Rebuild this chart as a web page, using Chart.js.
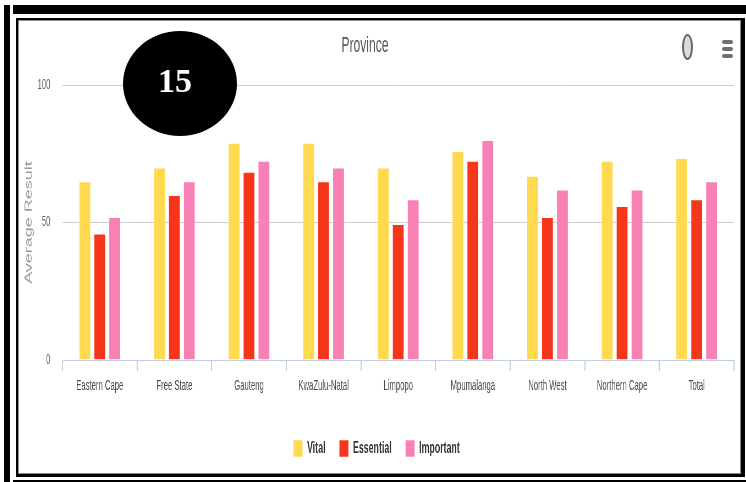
<!DOCTYPE html>
<html>
<head>
<meta charset="utf-8">
<script src="https://cdn.jsdelivr.net/npm/chart.js@4/dist/chart.umd.min.js"></script>
<style>
html, body { margin:0; padding:0; background:#fff; overflow:hidden; }
body { width:746px; height:482px; position:relative; }
.blk { position:absolute; background:#000; }
#frame { position:absolute; left:16px; top:18px; width:729px; height:459px; box-sizing:border-box;
  border-style:solid; border-color:#000; border-width:2px 4px 3px 2px; }
#inner { position:absolute; left:0; top:0; right:0; bottom:0; border:1px solid #888; }
#wrap { position:absolute; left:19px; top:21px; width:1311px; height:452px; transform:scaleX(0.55); transform-origin:0 0; }
#badge { position:absolute; left:123px; top:31px; width:114px; height:105px; border-radius:50%; background:#000; }
#badge span { position:absolute; left:0; width:104px; top:31px; line-height:36px; text-align:center;
  color:#fff; font:bold 34px "Liberation Serif", "Times New Roman", serif; }
#ctxBtn { position:absolute; left:682px; top:34px; width:11px; height:26px; box-sizing:border-box;
  border:2.5px solid #666; border-radius:50%; background:#dcdcdc; }
.menu { position:absolute; left:722px; width:11px; height:4px; border-radius:2px; background:#707070; }
</style>
</head>
<body>
<div class="blk" style="left:4px;top:5px;width:6px;height:477px"></div>
<div class="blk" style="left:13px;top:5px;width:733px;height:9px"></div>
<div class="blk" style="left:13px;top:480px;width:733px;height:2px"></div>
<div id="frame"><div id="inner"></div></div>
<div id="wrap"><canvas id="chart" width="1311" height="452"></canvas></div>
<div id="ctxBtn"></div>
<div class="menu" style="top:39.5px"></div>
<div class="menu" style="top:47px"></div>
<div class="menu" style="top:53.5px"></div>
<div id="badge"><span>15</span></div>
<script>
const provinces = ['Eastern Cape', 'Free State', 'Gauteng', 'KwaZulu-Natal', 'Limpopo', 'Mpumalanga', 'North West', 'Northern Cape', 'Total'];
const vital = [65, 70, 79, 79, 70, 76, 67, 72.5, 73.5];
const essential = [46, 60, 68.5, 65, 49.5, 72.5, 52, 56, 58.5];
const important = [52, 65, 72.5, 70, 58.5, 80, 62, 62, 65];
const seriesNames = ['Vital', 'Essential', 'Important'];
const seriesColors = ['#ffd94f', '#f5361a', '#f780b5'];
const yTicks = [0, 50, 100];

const fontFam = '"Liberation Sans", Arial, sans-serif';

// title drawn by hand so it can sit a bit left of centre like the original
const chartTitle = {
  id: 'chartTitle',
  afterDraw(chart) {
    const ctx = chart.ctx;
    ctx.save();
    ctx.font = '22px ' + fontFam;
    ctx.fillStyle = '#555';
    ctx.textAlign = 'center';
    ctx.textBaseline = 'middle';
    ctx.fillText('Province', 629, 25);
    ctx.restore();
  }
};

const values = [vital, essential, important];

new Chart(document.getElementById('chart'), {
  type: 'bar',
  plugins: [chartTitle],
  data: {
    labels: provinces,
    datasets: seriesNames.map((name, i) => ({
      label: name,
      data: values[i],
      backgroundColor: seriesColors[i],
      borderColor: 'rgba(255,255,255,0.55)',
      borderWidth: 1,
      categoryPercentage: 0.6,
      barPercentage: 0.8
    }))
  },
  options: {
    responsive: false,
    animation: false,
    layout: { padding: { top: 64, right: 11, bottom: 6, left: 0 } },
    plugins: {
      tooltip: { enabled: false },
      title: { display: false },
      legend: {
        position: 'bottom',
        labels: {
          boxWidth: 17,
          boxHeight: 17,
          padding: 25,
          color: '#333',
          font: { size: 16, weight: 'bold', family: fontFam }
        }
      }
    },
    scales: {
      x: {
        afterFit: (s) => { s.height = 55; },
        grid: {
          offset: true,
          drawOnChartArea: false,
          color: '#c0d0e0',
          lineWidth: 2,
          tickLength: 11
        },
        border: { color: '#c0d0e0', width: 1 },
        ticks: { color: '#4a4a4a', padding: 7, maxRotation: 0, font: { size: 14, family: fontFam } }
      },
      y: {
        min: 0,
        max: 100,
        afterFit: (s) => { s.width = 79; },
        afterBuildTicks: (s) => { s.ticks = yTicks.map(v => ({ value: v })); },
        grid: {
          drawTicks: false,
          color: (c) => c.tick && c.tick.value === 0 ? 'rgba(0,0,0,0)' : '#cdcdcd'
        },
        border: { display: false },
        ticks: { color: '#666', padding: 22, font: { size: 14, family: fontFam } },
        title: {
          display: true,
          text: 'Average Result',
          color: '#9a9a9a',
          padding: { top: 7, bottom: 0 },
          font: { size: 18, family: fontFam }
        }
      }
    }
  }
});
</script>
</body>
</html>
